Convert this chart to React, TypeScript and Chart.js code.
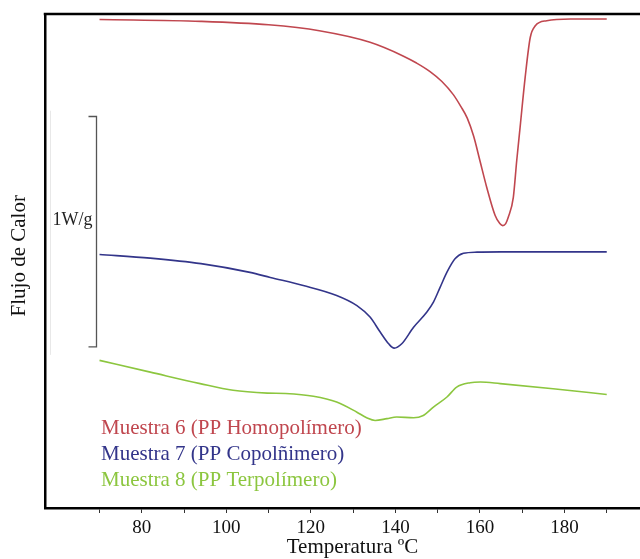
import React, { useEffect, useRef } from 'react';
import Chart from 'chart.js/auto';

// Temperatura (ºC) and heat flow (W/g, arbitrary offset)
const TEMP_M6 = [70, 94, 110, 122, 134, 141.8, 145, 148.2, 151, 153.7, 155.5, 157, 158.5, 160, 161.6, 163.6, 164.7, 165.4, 166.1, 166.7, 167.9, 168.7, 169.5, 170.7, 171.9, 173.1, 175.8, 181.4, 190];
const FLOW_M6 = [2.121, 2.113, 2.098, 2.072, 2.022, 1.963, 1.932, 1.895, 1.852, 1.795, 1.743, 1.693, 1.615, 1.508, 1.393, 1.27, 1.235, 1.226, 1.235, 1.262, 1.349, 1.508, 1.653, 1.87, 2.043, 2.094, 2.116, 2.123, 2.123];

const TEMP_M7 = [70, 82, 94, 105.6, 110.4, 118.2, 126.1, 130.9, 134, 136.4, 138.4, 139.7, 141.5, 144.3, 147.4, 149, 150.6, 152.2, 154.1, 156.1, 159.3, 165, 190];
const FLOW_M7 = [1.101, 1.085, 1.061, 1.023, 1.001, 0.966, 0.923, 0.879, 0.829, 0.764, 0.713, 0.694, 0.713, 0.785, 0.85, 0.894, 0.959, 1.024, 1.082, 1.106, 1.111, 1.112, 1.112];

const TEMP_M8 = [70, 82, 93.8, 101.6, 109.7, 114, 120.6, 126.1, 130.9, 133.2, 135.2, 138, 140.3, 144.3, 146.6, 149, 152.2, 154.5, 157.7, 160.1, 164.8, 177.3, 190];
const FLOW_M8 = [0.641, 0.59, 0.54, 0.511, 0.499, 0.497, 0.485, 0.46, 0.416, 0.392, 0.38, 0.388, 0.395, 0.392, 0.402, 0.438, 0.482, 0.525, 0.544, 0.547, 0.54, 0.518, 0.493];

const SERIES_LABELS = ['Muestra 6 (PP Homopolímero)', 'Muestra 7 (PP Copolñimero)', 'Muestra 8 (PP Terpolímero)'];
const SERIES_COLORS = ['#c0474f', '#33358a', '#8cc63f'];

const X_TICKS = [70, 80, 90, 100, 110, 120, 130, 140, 150, 160, 170, 180, 190];
const X_LABELED = [80, 100, 120, 140, 160, 180];
const X_MIN = 57.1;
const X_MAX = 202.6;
const Y_MIN = 0;
const Y_MAX = 2.145;

const SCALE_BAR = [0.7, 1.7]; // 1 W/g
const SCALE_BAR_T = 69.2;
const SCALE_BAR_LABEL = '1W/g';

const SERIF = '"Liberation Serif", "Times New Roman", serif';

export default function App() {
  const ref = useRef<HTMLCanvasElement>(null);

  useEffect(() => {
    document.body.style.margin = '0';
    const toPts = (xs: number[], ys: number[]) => xs.map((t, i) => ({ x: t, y: ys[i] }));
    const series = [toPts(TEMP_M6, FLOW_M6), toPts(TEMP_M7, FLOW_M7), toPts(TEMP_M8, FLOW_M8)];

    const decor = {
      id: 'decor',
      afterDraw(chart: any) {
        const { ctx, chartArea, scales } = chart;
        const { left, top, bottom } = chartArea;
        const x = scales.x;
        const y = scales.y;
        ctx.save();
        // top frame line
        ctx.strokeStyle = '#000';
        ctx.lineWidth = 2.5;
        ctx.beginPath();
        ctx.moveTo(left - 1.25, top);
        ctx.lineTo(chart.width, top);
        ctx.stroke();
        // faint guide line
        ctx.strokeStyle = '#e8e8e8';
        ctx.lineWidth = 1;
        ctx.beginPath();
        ctx.moveTo(left + 5.5, y.getPixelForValue(1.725));
        ctx.lineTo(left + 5.5, y.getPixelForValue(0.665));
        ctx.stroke();
        // scale bar
        const bx = Math.round(x.getPixelForValue(SCALE_BAR_T)) + 0.5;
        const y1 = y.getPixelForValue(SCALE_BAR[1]);
        const y0 = y.getPixelForValue(SCALE_BAR[0]);
        ctx.strokeStyle = '#555';
        ctx.lineWidth = 1.3;
        ctx.beginPath();
        ctx.moveTo(bx - 8, y1);
        ctx.lineTo(bx, y1);
        ctx.lineTo(bx, y0);
        ctx.lineTo(bx - 8, y0);
        ctx.stroke();
        ctx.fillStyle = '#222';
        ctx.font = `18px ${SERIF}`;
        ctx.textAlign = 'right';
        ctx.textBaseline = 'alphabetic';
        ctx.fillText(SCALE_BAR_LABEL, bx - 4, (y0 + y1) / 2 - 6.5);
        // legend text
        ctx.font = `21px ${SERIF}`;
        ctx.textAlign = 'left';
        chart.data.datasets.forEach((ds: any, i: number) => {
          ctx.fillStyle = ds.borderColor;
          ctx.fillText(ds.label, left + 56, bottom - 74 + i * 26);
        });
        ctx.restore();
      },
    };

    const chart = new Chart(ref.current as HTMLCanvasElement, {
      type: 'line',
      data: {
        datasets: series.map((pts, i) => ({
          label: SERIES_LABELS[i],
          data: pts,
          borderColor: SERIES_COLORS[i],
          backgroundColor: SERIES_COLORS[i],
          borderWidth: 1.6,
          pointRadius: 0,
          cubicInterpolationMode: 'monotone' as const,
          fill: false,
        })),
      },
      options: {
        responsive: false,
        animation: false,
        layout: { padding: { left: 0, right: 0, top: 14, bottom: 0 } },
        plugins: {
          legend: { display: false },
          tooltip: { enabled: false },
        },
        scales: {
          x: {
            type: 'linear',
            position: 'bottom',
            min: X_MIN,
            max: X_MAX,
            afterBuildTicks: (scale: any) => {
              scale.ticks = X_TICKS.map((v) => ({ value: v }));
            },
            afterFit: (scale: any) => {
              scale.height = 51;
            },
            grid: { drawOnChartArea: false, drawTicks: true, tickLength: 5, color: '#333', lineWidth: 1 },
            border: { display: true, color: '#000', width: 2.5 },
            ticks: {
              autoSkip: false,
              maxRotation: 0,
              padding: 4,
              color: '#111',
              font: { family: SERIF, size: 19 },
              callback: (v: any) => (X_LABELED.includes(Number(v)) ? String(v) : ''),
            },
            title: {
              display: true,
              text: 'Temperatura ºC',
              color: '#111',
              font: { family: SERIF, size: 21, lineHeight: 1.1 },
              padding: { top: 0, bottom: 0 },
            },
          },
          y: {
            type: 'linear',
            position: 'left',
            min: Y_MIN,
            max: Y_MAX,
            afterFit: (scale: any) => {
              scale.width = 45;
            },
            grid: { drawOnChartArea: false, drawTicks: false },
            border: { display: true, color: '#000', width: 2.5 },
            ticks: { display: false },
            title: {
              display: true,
              text: '  Flujo de Calor',
              color: '#111',
              font: { family: SERIF, size: 21 },
              padding: { top: 6.5, bottom: 0 },
            },
          },
        },
      },
      plugins: [decor],
    } as any);

    return () => chart.destroy();
  }, []);

  return (
    <div style={{ width: 640, height: 559, overflow: 'hidden' }}>
      <canvas ref={ref} width={660} height={559} style={{ display: 'block', width: 660, height: 559 }} />
    </div>
  );
}
